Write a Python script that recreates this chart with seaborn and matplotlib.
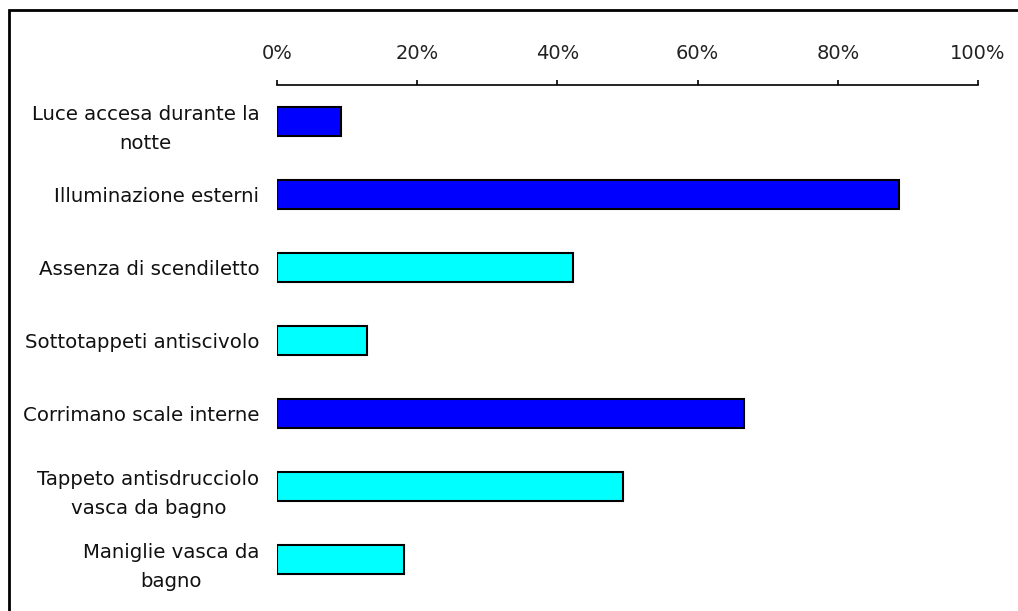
import matplotlib
matplotlib.use("Agg")
from matplotlib import pyplot as plt
from matplotlib.patches import Rectangle
import seaborn as sns
import pandas as pd

# data
categories = [
    "Luce accesa durante la\nnotte",
    "Illuminazione esterni",
    "Assenza di scendiletto",
    "Sottotappeti antiscivolo",
    "Corrimano scale interne",
    "Tappeto antisdrucciolo\nvasca da bagno",
    "Maniglie vasca da\nbagno",
]
values = [9.2, 88.7, 42.2, 12.9, 66.6, 49.4, 18.1]
bar_colors = ["#0000FF", "#0000FF", "#00FFFF", "#00FFFF", "#0000FF", "#00FFFF", "#00FFFF"]
xticks = [0, 20, 40, 60, 80, 100]

sns.set_style("white")
plt.rcParams["font.family"] = ["DejaVu Sans"]

df = pd.DataFrame({"category": categories, "value": values})

fig = plt.figure(figsize=(10.18, 6.11), dpi=100)
ax = fig.add_axes([277 / 1018, 1 - 596 / 611, (978 - 277) / 1018, (596 - 85) / 611])

sns.barplot(data=df, y="category", x="value", hue="category", palette=bar_colors,
            orient="h", width=0.41, edgecolor="black", linewidth=1.5,
            legend=False, ax=ax, saturation=1)

ax.set_xlim(0, 100)
ax.set_ylim(6.5, -0.5)
ax.set_xticks(xticks)
ax.set_xticklabels([f"{t}%" for t in xticks])
ax.xaxis.tick_top()
ax.tick_params(axis="x", top=True, bottom=False, length=3.6, width=1.2, direction="out",
               pad=12, labelsize=14, colors="black", labelcolor="#222222")
ax.tick_params(axis="y", left=False, length=0, pad=12.6, labelsize=14.2, labelcolor="#111111")
for lbl in ax.get_yticklabels():
    lbl.set_multialignment("center")
    lbl.set_linespacing(1.7)
ax.set_xlabel("")
ax.set_ylabel("")

for side in ["left", "right", "bottom"]:
    ax.spines[side].set_visible(False)
ax.spines["top"].set_color("black")
ax.spines["top"].set_linewidth(1.2)

# outer frame of the chart area
fig.patches.append(Rectangle((9 / 1018, -0.1), 1.2, 1 - 10 / 611 + 0.1,
                             transform=fig.transFigure, fill=False,
                             edgecolor="black", linewidth=2))

fig.savefig("out.png", dpi=100)
